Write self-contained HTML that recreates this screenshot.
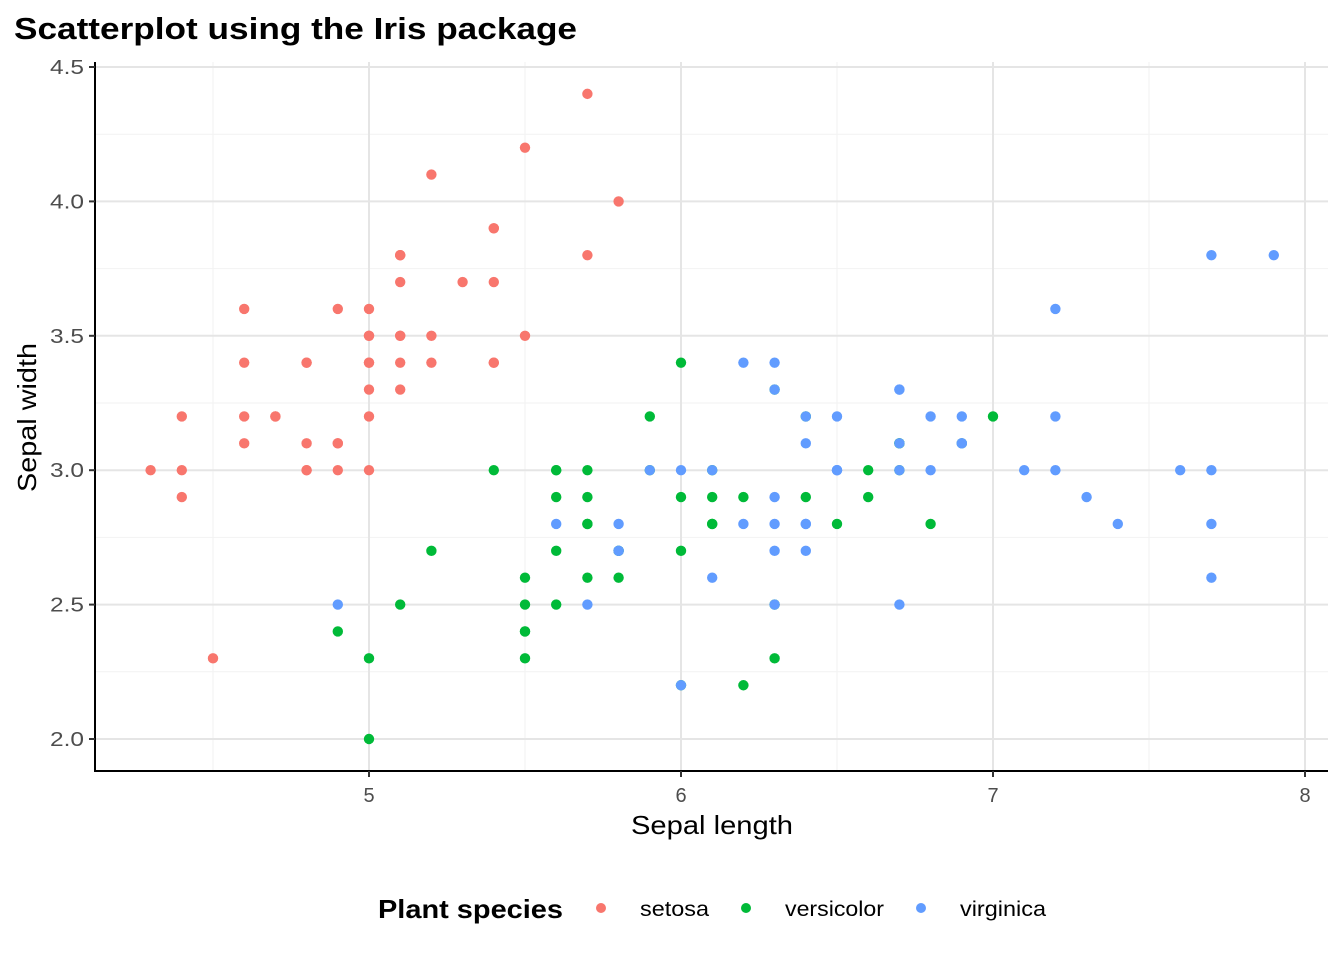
<!DOCTYPE html>
<html><head><meta charset="utf-8"><style>
html,body{margin:0;padding:0;background:#fff;}
svg{display:block;font-family:"Liberation Sans",Arial,sans-serif;}
</style></head><body>
<svg id="s" width="1344" height="960" xmlns="http://www.w3.org/2000/svg">
<rect width="1344" height="960" fill="#fff"/>
<g id="grid"></g>
<g id="pts"></g>
<line x1="95" y1="62" x2="95" y2="771" stroke="#000" stroke-width="2"/>
<line x1="94" y1="771" x2="1328" y2="771" stroke="#000" stroke-width="2"/>
<g id="ticks"></g>
<text x="14" y="39" font-size="31" font-weight="bold" textLength="563" lengthAdjust="spacingAndGlyphs">Scatterplot using the Iris package</text>
<text x="631" y="834" font-size="26" textLength="162" lengthAdjust="spacingAndGlyphs">Sepal length</text>
<text transform="translate(36,492) rotate(-90)" font-size="26" textLength="149" lengthAdjust="spacingAndGlyphs">Sepal width</text>
<text x="378" y="918" font-size="26" font-weight="bold" textLength="185" lengthAdjust="spacingAndGlyphs">Plant species</text>
<circle cx="601" cy="908" r="5" fill="#F8766D"/>
<text x="640" y="916" font-size="21" textLength="69" lengthAdjust="spacingAndGlyphs">setosa</text>
<circle cx="746" cy="908" r="5" fill="#00BA38"/>
<text x="785" y="916" font-size="21" textLength="99" lengthAdjust="spacingAndGlyphs">versicolor</text>
<circle cx="921" cy="908" r="5" fill="#619CFF"/>
<text x="960" y="916" font-size="21" textLength="86" lengthAdjust="spacingAndGlyphs">virginica</text>
</svg>
<script>
var NS="http://www.w3.org/2000/svg";
function X(v){return 369+(v-5)*312;}
function Y(v){return 739-(v-2)*268.8;}
function el(p,t,a){var e=document.createElementNS(NS,t);for(var k in a)e.setAttribute(k,a[k]);p.appendChild(e);return e;}
var g=document.getElementById('grid'),tk=document.getElementById('ticks');
for(var v=4.5;v<=7.51;v+=1)el(g,'line',{x1:X(v),x2:X(v),y1:62,y2:771,stroke:'#F2F2F2','stroke-width':1});
for(var v=2.25;v<=4.3;v+=0.5)el(g,'line',{x1:95,x2:1328,y1:Y(v),y2:Y(v),stroke:'#F2F2F2','stroke-width':1});
for(var v=5;v<=8;v++){el(g,'line',{x1:X(v),x2:X(v),y1:62,y2:771,stroke:'#E5E5E5','stroke-width':2});
 el(tk,'line',{x1:X(v),x2:X(v),y1:771,y2:777,stroke:'#333','stroke-width':2});
 var t=el(tk,'text',{x:X(v),y:802,'font-size':20,fill:'#4D4D4D','text-anchor':'middle'});t.textContent=v;}
for(var v=2;v<=4.51;v+=0.5){el(g,'line',{x1:95,x2:1328,y1:Y(v),y2:Y(v),stroke:'#E5E5E5','stroke-width':2});
 el(tk,'line',{x1:89,x2:95,y1:Y(v),y2:Y(v),stroke:'#333','stroke-width':2});
 var t=el(tk,'text',{x:50,y:Y(v)+7,'font-size':20,fill:'#4D4D4D',textLength:34,lengthAdjust:'spacingAndGlyphs'});t.textContent=v.toFixed(1);}
var d={
'#F8766D':"5.1,3.5 4.9,3.0 4.7,3.2 4.6,3.1 5.0,3.6 5.4,3.9 4.6,3.4 5.0,3.4 4.4,2.9 4.9,3.1 5.4,3.7 4.8,3.4 4.8,3.0 4.3,3.0 5.8,4.0 5.7,4.4 5.4,3.9 5.1,3.5 5.7,3.8 5.1,3.8 5.4,3.4 5.1,3.7 4.6,3.6 5.1,3.3 4.8,3.4 5.0,3.0 5.0,3.4 5.2,3.5 5.2,3.4 4.7,3.2 4.8,3.1 5.4,3.4 5.2,4.1 5.5,4.2 4.9,3.1 5.0,3.2 5.5,3.5 4.9,3.6 4.4,3.0 5.1,3.4 5.0,3.5 4.5,2.3 4.4,3.2 5.0,3.5 5.1,3.8 4.8,3.0 5.1,3.8 4.6,3.2 5.3,3.7 5.0,3.3",
'#00BA38':"7.0,3.2 6.4,3.2 6.9,3.1 5.5,2.3 6.5,2.8 5.7,2.8 6.3,3.3 4.9,2.4 6.6,2.9 5.2,2.7 5.0,2.0 5.9,3.0 6.0,2.2 6.1,2.9 5.6,2.9 6.7,3.1 5.6,3.0 5.8,2.7 6.2,2.2 5.6,2.5 5.9,3.2 6.1,2.8 6.3,2.5 6.1,2.8 6.4,2.9 6.6,3.0 6.8,2.8 6.7,3.0 6.0,2.9 5.7,2.6 5.5,2.4 5.5,2.4 5.8,2.7 6.0,2.7 5.4,3.0 6.0,3.4 6.7,3.1 6.3,2.3 5.6,3.0 5.5,2.5 5.5,2.6 6.1,3.0 5.8,2.6 5.0,2.3 5.6,2.7 5.7,3.0 5.7,2.9 6.2,2.9 5.1,2.5 5.7,2.8",
'#619CFF':"6.3,3.3 5.8,2.7 7.1,3.0 6.3,2.9 6.5,3.0 7.6,3.0 4.9,2.5 7.3,2.9 6.7,2.5 7.2,3.6 6.5,3.2 6.4,2.7 6.8,3.0 5.7,2.5 5.8,2.8 6.4,3.2 6.5,3.0 7.7,3.8 7.7,2.6 6.0,2.2 6.9,3.2 5.6,2.8 7.7,2.8 6.3,2.7 6.7,3.3 7.2,3.2 6.2,2.8 6.1,3.0 6.4,2.8 7.2,3.0 7.4,2.8 7.9,3.8 6.4,2.8 6.3,2.8 6.1,2.6 7.7,3.0 6.3,3.4 6.4,3.1 6.0,3.0 6.9,3.1 6.7,3.1 6.9,3.1 5.8,2.7 6.8,3.2 6.7,3.3 6.7,3.0 6.3,2.5 6.5,3.0 6.2,3.4 5.9,3.0"};
var p=document.getElementById('pts');
for(var c in d){d[c].split(' ').forEach(function(s){var a=s.split(',');el(p,'circle',{cx:X(+a[0]),cy:Y(+a[1]),r:5.2,fill:c});});}
</script>
</body></html>
